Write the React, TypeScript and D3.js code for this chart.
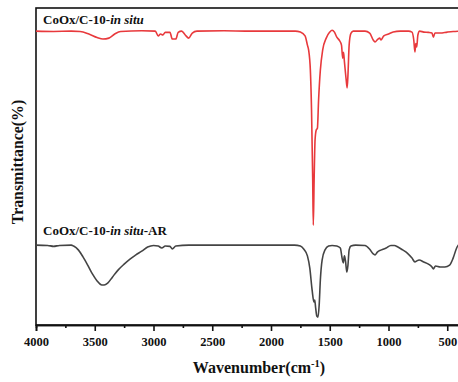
import { useEffect, useRef } from "react";
import * as d3 from "d3";

// spectra: [wavenumber cm-1, transmittance (a.u.)]
const insitu: [number, number][] = [
  [4000, 92.7], [3850, 92.6], [3700, 92.7], [3625, 92.6], [3550, 91.8], [3480, 90.7],
  [3430, 90.2], [3380, 90.5], [3330, 91.8], [3280, 92.6], [3100, 92.8], [2985, 92.7],
  [2960, 91.2], [2940, 91.8], [2920, 91.5], [2900, 92.3], [2860, 92.3], [2840, 90.2],
  [2810, 90.2], [2790, 92.3], [2760, 92.7], [2730, 91.5], [2700, 90.5], [2670, 92.1],
  [2630, 92.7], [2400, 92.8], [2200, 92.7], [2000, 92.7], [1794, 92.7], [1750, 92.4],
  [1710, 91.2], [1690, 88.3], [1680, 86.8], [1665, 80.4], [1655, 67.8], [1645, 45.7],
  [1640, 31.5], [1633, 45.7], [1625, 58.4], [1615, 61.5], [1605, 62.1], [1595, 71],
  [1580, 80.4], [1560, 86.8], [1530, 90.5], [1500, 92.4], [1480, 93], [1460, 92.4],
  [1440, 90.8], [1420, 89.9], [1400, 88.3], [1390, 84.2], [1383, 86], [1375, 83],
  [1360, 77.3], [1352, 74.8], [1345, 78.9], [1335, 88.3], [1320, 92], [1300, 92.7],
  [1200, 92.7], [1160, 92.1], [1130, 89.9], [1115, 89.3], [1090, 90.2], [1075, 90.5],
  [1065, 89.9], [1040, 91.2], [1000, 91.8], [960, 92.4], [900, 92.7], [830, 92.7],
  [800, 92.4], [785, 89.9], [775, 86.1], [768, 88.8], [760, 87.7], [750, 91.5],
  [735, 92.7], [700, 92.4], [660, 92.3], [630, 92.1], [618, 90.8], [605, 92.1],
  [560, 92.1], [500, 92.4], [450, 92.6], [400, 92.7],
];

const insituAR: [number, number][] = [
  [4000, 25.2], [3900, 25.1], [3850, 24.8], [3800, 25.1], [3700, 25.2], [3680, 24.9],
  [3640, 23.7], [3600, 21.5], [3560, 18.9], [3520, 16.1], [3480, 13.9], [3440, 12.6],
  [3420, 12.6], [3390, 13.2], [3350, 15.1], [3300, 17.4], [3250, 19.2], [3200, 20.8],
  [3150, 22.1], [3100, 23.3], [3050, 24.6], [3000, 25.1], [2960, 24.9], [2930, 24.3],
  [2900, 24.9], [2860, 24.8], [2840, 24], [2810, 24.9], [2700, 25.2], [2400, 25.2],
  [2100, 25.2], [1800, 25.2], [1750, 24.9], [1720, 23.9], [1690, 21.8], [1670, 18],
  [1650, 11], [1635, 7.3], [1628, 7.9], [1620, 5.4], [1610, 2.8], [1600, 2.5],
  [1590, 6.3], [1580, 14.2], [1565, 20.5], [1540, 23.7], [1510, 24.9], [1480, 25.1],
  [1440, 24.9], [1410, 24.3], [1395, 21.1], [1385, 19.6], [1375, 21.8], [1365, 19.9],
  [1355, 16.7], [1345, 18.9], [1335, 23.7], [1320, 24.9], [1280, 25.2], [1200, 25.1],
  [1160, 23.9], [1130, 22.4], [1115, 22.1], [1095, 23], [1060, 23.7], [1020, 24.3],
  [980, 25.1], [950, 25.1], [920, 24.6], [880, 23.7], [840, 22.7], [800, 21.1],
  [775, 19.9], [760, 20.2], [740, 20.5], [700, 19.9], [660, 19.2], [630, 18.3],
  [618, 17.7], [600, 18.6], [560, 18.3], [520, 18.3], [480, 18.9], [450, 21.1],
  [420, 24.3], [400, 25.5],
];

const majorTicks = [4000, 3500, 3000, 2500, 2000, 1500, 1000, 500];
const minorTicks = [3750, 3250, 2750, 2250, 1750, 1250, 750];

const W = 458;
const H = 382;
const margin = { top: 8, right: -1, bottom: 57, left: 36 };
const serif = "'Liberation Serif', 'Times New Roman', serif";

export default function App() {
  const ref = useRef<SVGSVGElement>(null);

  useEffect(() => {
    const svg = d3.select(ref.current);
    svg.selectAll("*").remove();

    const x = d3.scaleLinear().domain([4000, 400]).range([margin.left, W - margin.right]);
    const y = d3.scaleLinear().domain([0, 100]).range([H - margin.bottom, margin.top]);

    // frame
    svg
      .append("rect")
      .attr("x", margin.left)
      .attr("y", margin.top)
      .attr("width", W - margin.right - margin.left)
      .attr("height", H - margin.bottom - margin.top)
      .attr("fill", "none")
      .attr("stroke", "#111")
      .attr("stroke-width", 1.6);

    const gx = svg.append("g").attr("transform", `translate(0,${H - margin.bottom})`);
    gx.call(
      d3.axisBottom(x).tickValues(majorTicks).tickSize(6).tickFormat(d3.format("d"))
    );
    gx.append("g").call(d3.axisBottom(x).tickValues(minorTicks).tickSize(3).tickFormat(() => ""));
    gx.selectAll(".domain").attr("stroke", "#111").attr("stroke-width", 1.6);
    gx.selectAll(".tick line").attr("stroke", "#111").attr("stroke-width", 1.6);
    gx.selectAll(".tick text")
      .attr("fill", "#111")
      .attr("font-family", serif)
      .attr("font-weight", "bold")
      .attr("font-size", 12.5)
      .attr("dy", "0.95em");

    const line = d3
      .line<[number, number]>()
      .x((d) => x(d[0]))
      .y((d) => y(d[1]))
      .curve(d3.curveMonotoneX);

    svg
      .append("path")
      .datum(insitu)
      .attr("d", line)
      .attr("fill", "none")
      .attr("stroke", "#e8393c")
      .attr("stroke-width", 1.6);

    svg
      .append("path")
      .datum(insituAR)
      .attr("d", line)
      .attr("fill", "none")
      .attr("stroke", "#444")
      .attr("stroke-width", 1.6);

    // series labels
    const lab = (ty: number, extra: string) => {
      const t = svg
        .append("text")
        .attr("x", 43)
        .attr("y", ty)
        .attr("font-family", serif)
        .attr("font-weight", "bold")
        .attr("font-size", 13)
        .attr("fill", "#111");
      t.append("tspan").text("CoOx/C-10-");
      t.append("tspan").attr("font-style", "italic").text("in situ");
      if (extra) t.append("tspan").text(extra);
    };
    lab(24, "");
    lab(235, "-AR");

    // axis titles
    const xt = svg
      .append("text")
      .attr("x", 259)
      .attr("y", 373)
      .attr("text-anchor", "middle")
      .attr("font-family", serif)
      .attr("font-weight", "bold")
      .attr("font-size", 16)
      .attr("fill", "#111");
    xt.append("tspan").text("Wavenumber(cm");
    xt.append("tspan").attr("font-size", 10.5).attr("dy", -6).text("-1");
    xt.append("tspan").attr("dy", 6).text(")");

    svg
      .append("text")
      .attr("transform", `translate(23,162) rotate(-90)`)
      .attr("text-anchor", "middle")
      .attr("font-family", serif)
      .attr("font-weight", "bold")
      .attr("font-size", 15.8)
      .attr("fill", "#111")
      .text("Transmittance(%)");
  }, []);

  return (
    <svg
      ref={ref}
      width={W}
      height={H}
      style={{ position: "absolute", left: 0, top: 0, background: "#fff" }}
    />
  );
}
